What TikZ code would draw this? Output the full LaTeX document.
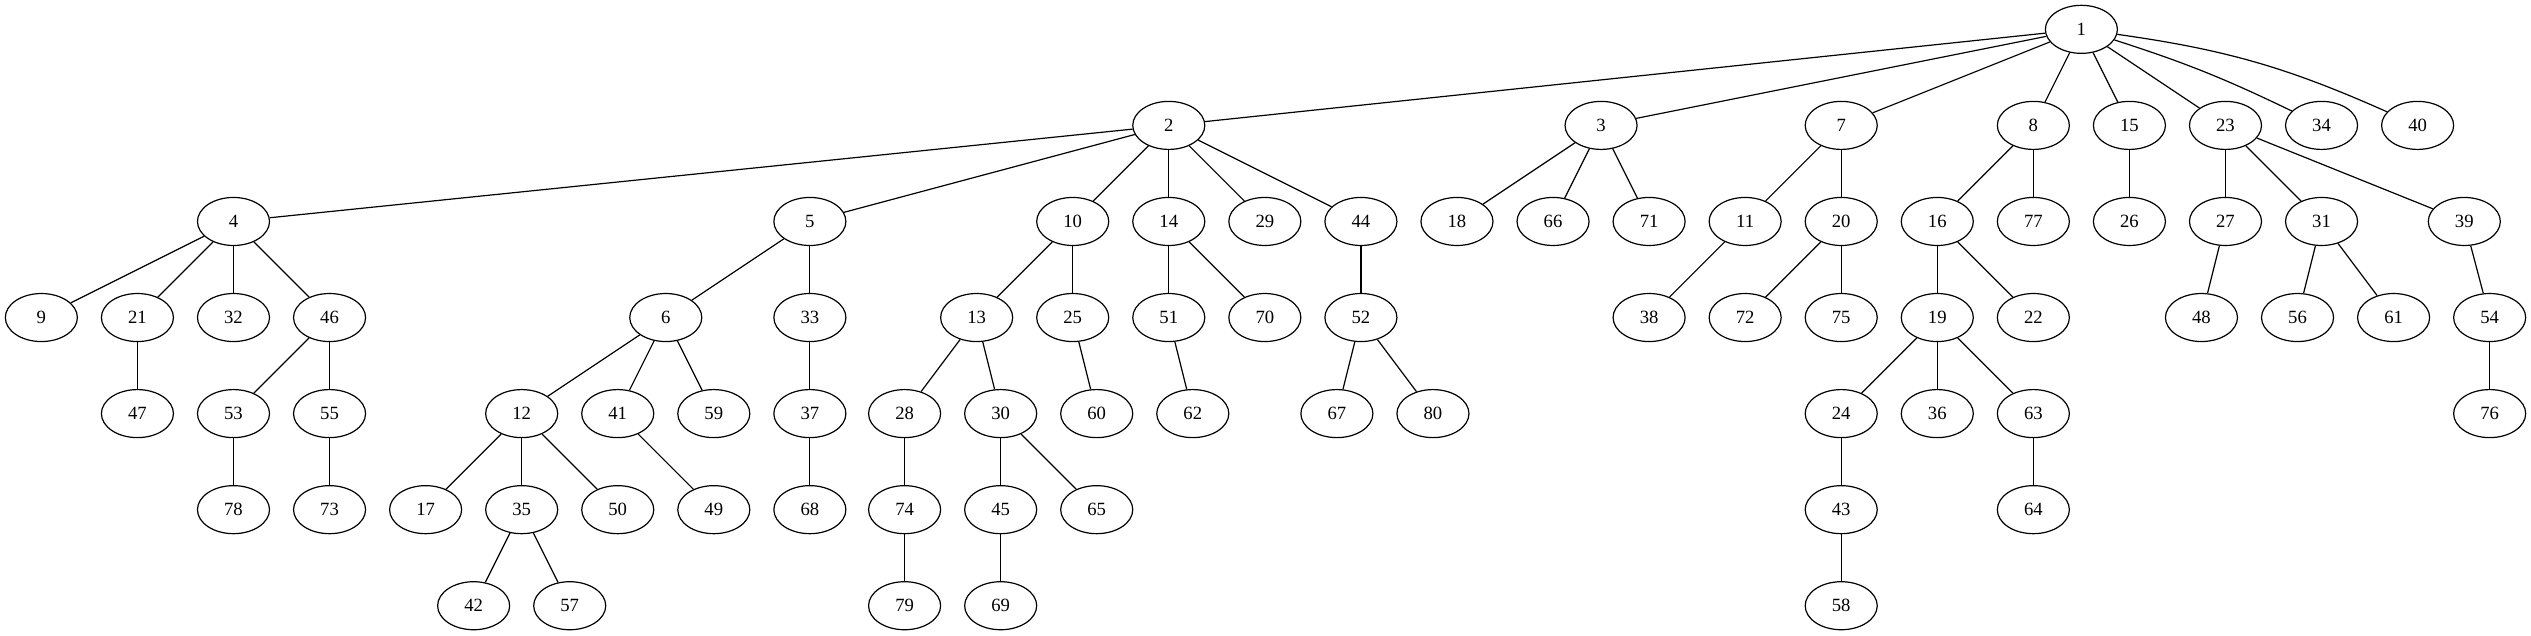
\documentclass[tikz,border=0pt]{standalone}
\usepackage{fontspec}
\setmainfont{Liberation Serif}
\usepackage{tikz}
\usetikzlibrary{shapes.geometric}

\begin{document}
\begin{tikzpicture}[x=1pt, y=1pt,
    every node/.style={ellipse, draw=black, line width=0.9pt, inner sep=0pt,
      minimum width=54pt, minimum height=36pt, font=\fontsize{14}{16}\selectfont},
    every edge/.style={draw, line width=0.9pt}]

  \useasboundingbox (0,0) rectangle (1897,476);

  % level 0
  \node (v1) at (1560,454) {1};

  % level 1
  \node (v2) at (876,382) {2};
  \node (v3) at (1200,382) {3};
  \node (v7) at (1380,382) {7};
  \node (v8) at (1524,382) {8};
  \node (v15) at (1596,382) {15};
  \node (v23) at (1668,382) {23};
  \node (v34) at (1740,382) {34};
  \node (v40) at (1812,382) {40};

  % level 2
  \node (v4) at (175,310) {4};
  \node (v5) at (607,310) {5};
  \node (v10) at (804,310) {10};
  \node (v14) at (876,310) {14};
  \node (v29) at (948,310) {29};
  \node (v44) at (1020,310) {44};
  \node (v18) at (1092,310) {18};
  \node (v66) at (1164,310) {66};
  \node (v71) at (1236,310) {71};
  \node (v11) at (1308,310) {11};
  \node (v20) at (1380,310) {20};
  \node (v16) at (1452,310) {16};
  \node (v77) at (1524,310) {77};
  \node (v26) at (1596,310) {26};
  \node (v27) at (1668,310) {27};
  \node (v31) at (1740,310) {31};
  \node (v39) at (1847,310) {39};

  % level 3
  \node (v9) at (31,238) {9};
  \node (v21) at (103,238) {21};
  \node (v32) at (175,238) {32};
  \node (v46) at (247,238) {46};
  \node (v6) at (499,238) {6};
  \node (v33) at (607,238) {33};
  \node (v13) at (732,238) {13};
  \node (v25) at (804,238) {25};
  \node (v51) at (876,238) {51};
  \node (v70) at (948,238) {70};
  \node (v52) at (1020,238) {52};
  \node (v38) at (1236,238) {38};
  \node (v72) at (1308,238) {72};
  \node (v75) at (1380,238) {75};
  \node (v19) at (1452,238) {19};
  \node (v22) at (1524,238) {22};
  \node (v48) at (1650,238) {48};
  \node (v56) at (1722,238) {56};
  \node (v61) at (1794,238) {61};
  \node (v54) at (1866,238) {54};

  % level 4
  \node (v47) at (103,166) {47};
  \node (v53) at (175,166) {53};
  \node (v55) at (247,166) {55};
  \node (v12) at (391,166) {12};
  \node (v41) at (463,166) {41};
  \node (v59) at (535,166) {59};
  \node (v37) at (607,166) {37};
  \node (v28) at (678,166) {28};
  \node (v30) at (750,166) {30};
  \node (v60) at (822,166) {60};
  \node (v62) at (894,166) {62};
  \node (v67) at (1002,166) {67};
  \node (v80) at (1074,166) {80};
  \node (v24) at (1380,166) {24};
  \node (v36) at (1452,166) {36};
  \node (v63) at (1524,166) {63};
  \node (v76) at (1866,166) {76};

  % level 5
  \node (v78) at (175,94) {78};
  \node (v73) at (247,94) {73};
  \node (v17) at (319,94) {17};
  \node (v35) at (391,94) {35};
  \node (v50) at (463,94) {50};
  \node (v49) at (535,94) {49};
  \node (v68) at (607,94) {68};
  \node (v74) at (678,94) {74};
  \node (v45) at (750,94) {45};
  \node (v65) at (822,94) {65};
  \node (v43) at (1380,94) {43};
  \node (v64) at (1524,94) {64};

  % level 6
  \node (v42) at (355,22) {42};
  \node (v57) at (427,22) {57};
  \node (v79) at (678,22) {79};
  \node (v69) at (750,22) {69};
  \node (v58) at (1380,22) {58};

  % edges
  \draw (v1) edge (v2) edge (v3) edge (v7) edge (v8) edge (v15) edge (v23);
  \draw (v1) edge[bend left=4] (v34) edge[bend left=8] (v40);
  \draw (v2) edge (v4) edge (v5) edge (v10) edge (v14) edge (v29) edge (v44);
  \draw (v3) edge (v18) edge (v66) edge (v71);
  \draw (v7) edge (v11) edge (v20);
  \draw (v8) edge (v16) edge (v77);
  \draw (v15) edge (v26);
  \draw (v23) edge (v27) edge (v31) edge (v39);
  \draw (v4) edge (v9) edge (v21) edge (v32) edge (v46);
  \draw (v5) edge (v6) edge (v33);
  \draw (v10) edge (v13) edge (v25);
  \draw (v14) edge (v51) edge (v70);
  \draw (v44) edge (v52);
  \draw (v11) edge (v38);
  \draw (v20) edge (v72) edge (v75);
  \draw (v16) edge (v19) edge (v22);
  \draw (v27) edge (v48);
  \draw (v31) edge (v56) edge (v61);
  \draw (v39) edge (v54);
  \draw (v21) edge (v47);
  \draw (v46) edge (v53) edge (v55);
  \draw (v6) edge (v12) edge (v41) edge (v59);
  \draw (v33) edge (v37);
  \draw (v13) edge (v28) edge (v30);
  \draw (v25) edge (v60);
  \draw (v51) edge (v62);
  \draw (v52) edge (v67) edge (v80);
  \draw (v19) edge (v24) edge (v36) edge (v63);
  \draw (v54) edge (v76);
  \draw (v53) edge (v78);
  \draw (v55) edge (v73);
  \draw (v12) edge (v17) edge (v35) edge (v50);
  \draw (v41) edge (v49);
  \draw (v37) edge (v68);
  \draw (v28) edge (v74);
  \draw (v30) edge (v45) edge (v65);
  \draw (v24) edge (v43);
  \draw (v63) edge (v64);
  \draw (v35) edge (v42) edge (v57);
  \draw (v74) edge (v79);
  \draw (v45) edge (v69);
  \draw (v43) edge (v58);
\end{tikzpicture}
\end{document}
